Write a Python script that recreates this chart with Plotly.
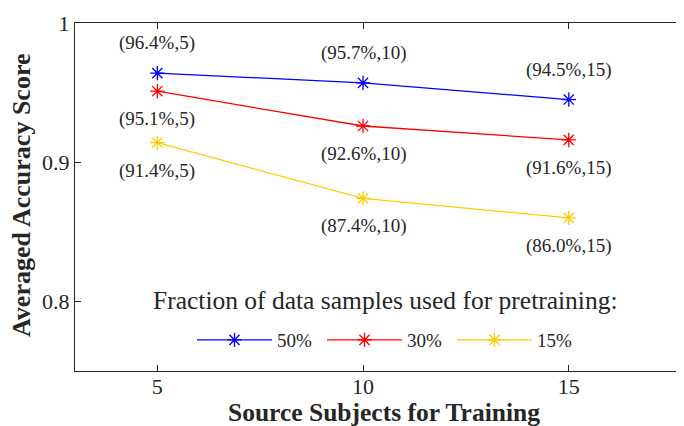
import plotly.graph_objects as go

subjects = [5, 10, 15]
acc_50 = [0.964, 0.957, 0.945]
acc_30 = [0.951, 0.926, 0.916]
acc_15 = [0.914, 0.874, 0.860]
series_names = ["50%", "30%", "15%"]
colors = ["#0000FF", "#FF0000", "#FFCC00"]
label_pos = [["above", "above", "above"], ["below", "below", "below"], ["below", "below", "below"]]

FONT = "Liberation Serif"
TXT = "#262626"
# page body has an 8px default margin: shrink the figure so it fits the window
PAD = 8
W, H = 684 - PAD, 426 - PAD
L, T = 75 - PAD, 23 - PAD
PW, PH = 609, 348

def px_x(x):  # window pixel -> paper x
    return (x - 75) / PW

def px_y(y):  # window pixel -> paper y
    return (371 - y) / PH

fig = go.Figure()
annotations = []
for name, vals, col, pos in zip(series_names, [acc_50, acc_30, acc_15], colors, label_pos):
    fig.add_trace(go.Scatter(
        x=subjects, y=vals, mode="lines+markers", name=name,
        line=dict(color=col, width=1.3),
        marker=dict(symbol="asterisk-open", size=12, line=dict(color=col, width=1.3)),
    ))
    for xv, yv, p in zip(subjects, vals, pos):
        annotations.append(dict(
            x=xv, y=yv, xref="x", yref="y", showarrow=False,
            text=f"({yv*100:.1f}%,{xv})",
            yshift=30 if p == "above" else -28,
            font=dict(family=FONT, size=19, color=TXT),
        ))

annotations.append(dict(
    text="Source Subjects for Training", xref="paper", yref="paper",
    x=px_x(384), y=px_y(413), xanchor="center", yanchor="middle",
    showarrow=False, font=dict(family=FONT, size=25.5, color=TXT, weight="bold"),
))
annotations.append(dict(
    text="Averaged Accuracy Score", xref="paper", yref="paper",
    x=px_x(22), y=px_y(195), xanchor="center", yanchor="middle",
    textangle=-90, showarrow=False,
    font=dict(family=FONT, size=26, color=TXT, weight="bold"),
))
annotations.append(dict(
    text="Fraction of data samples used for pretraining:", xref="paper", yref="paper",
    x=px_x(385), y=px_y(300), xanchor="center", yanchor="middle",
    showarrow=False, font=dict(family=FONT, size=25.5, color=TXT),
))

fig.update_layout(
    width=W, height=H,
    margin=dict(l=L, r=0, t=T, b=H - T - PH, autoexpand=False),
    paper_bgcolor="white", plot_bgcolor="white",
    font=dict(family=FONT, color=TXT),
    annotations=annotations,
    showlegend=True,
    legend=dict(
        orientation="h", x=px_x(387), xanchor="center", y=px_y(340), yanchor="middle",
        font=dict(family=FONT, size=19, color=TXT),
        bgcolor="rgba(0,0,0,0)", itemwidth=75, entrywidth=40,
    ),
    xaxis=dict(
        range=[3, 17.8], tickvals=subjects, ticktext=[str(s) for s in subjects],
        ticks="inside", ticklen=6, tickcolor=TXT,
        showline=True, linecolor=TXT, linewidth=1, mirror="ticks",
        showgrid=False, zeroline=False, automargin=False, ticklabelstandoff=-4,
        tickfont=dict(family=FONT, size=22, color=TXT),
    ),
    yaxis=dict(
        range=[0.75, 1.0], tickvals=[0.8, 0.9, 1.0], ticktext=["0.8", "0.9", "1"],
        ticks="inside", ticklen=6, tickcolor=TXT,
        showline=True, linecolor=TXT, linewidth=1, mirror=False,
        showgrid=False, zeroline=False, automargin=False,
        tickfont=dict(family=FONT, size=22, color=TXT),
    ),
)

fig.write_html("out.html")
